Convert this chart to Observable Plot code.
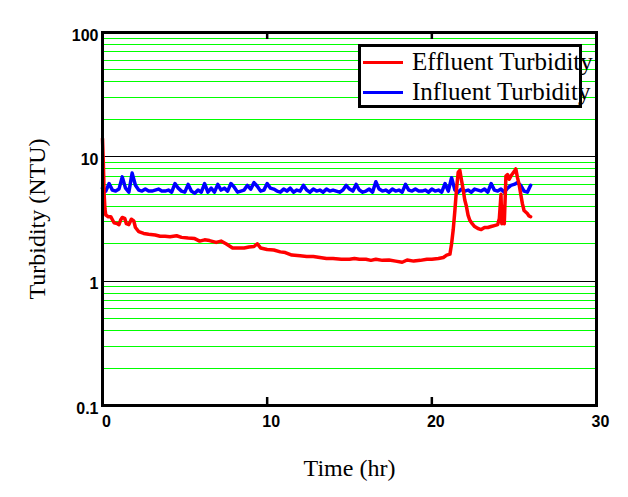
<!DOCTYPE html>
<html>
<head>
<meta charset="utf-8">
<script src="https://cdn.jsdelivr.net/npm/d3@7"></script>
<script src="https://cdn.jsdelivr.net/npm/@observablehq/plot@0.6"></script>
<style>
  body { margin: 0; background: #fff; }
  #wrap { position: relative; width: 628px; height: 497px; }
  #legend {
    position: absolute; left: 358px; top: 44px; width: 218px; height: 58px;
    border: 3px solid #000; background: #fff;
    font-family: "Liberation Serif", serif; font-size: 25px; white-space: nowrap;
  }
  #legend .row { position: absolute; left: 2px; height: 30px; line-height: 30px; }
  #legend .sw { display: inline-block; width: 40px; height: 3px; vertical-align: middle; margin-right: 9px; position: relative; top: -2px; }
</style>
</head>
<body>
<div id="wrap">
  <div id="chart"></div>
  <div id="legend"></div>
</div>
<script>
// effluent turbidity (red), irregular sample times
const effluentTime = [0, 0.05, 0.1, 0.15, 0.2, 0.35, 0.5, 0.7, 0.9, 1.0, 1.1, 1.2, 1.35, 1.45, 1.6, 1.75, 1.9, 2.0,
  2.2, 2.5, 2.8, 3.2, 3.5, 3.8, 4.1, 4.5, 4.8, 5.2, 5.6, 5.9, 6.2, 6.5, 6.9, 7.2, 7.5, 7.9, 8.3, 8.6, 8.9, 9.2, 9.4, 9.6,
  10.0, 10.4, 10.8, 11.1, 11.5, 12.0, 12.4, 12.8, 13.2, 13.6, 14.0, 14.5, 15.0, 15.3, 15.6, 16.0, 16.3, 16.6, 17.0,
  17.4, 17.8, 18.2, 18.5, 18.9, 19.3, 19.7, 20.0, 20.4, 20.7, 20.9, 21.1, 21.2, 21.3, 21.4, 21.5, 21.6, 21.7, 21.8,
  21.9, 22.0, 22.1, 22.2, 22.3, 22.45, 22.6, 22.8, 23.0, 23.2, 23.4, 23.6, 23.8, 24.0, 24.1, 24.2, 24.25, 24.3, 24.4,
  24.5, 24.6, 24.7, 24.8, 24.9, 25.0, 25.1, 25.2, 25.3, 25.4, 25.5, 25.6, 25.7, 25.8, 25.9, 26.0];
const effluentNTU = [14, 9, 5, 3.8, 3.4, 3.3, 3.3, 2.95, 2.9, 2.85, 3.1, 3.25, 3.2, 2.9, 2.85, 3.15, 3.05, 2.7,
  2.5, 2.42, 2.38, 2.35, 2.3, 2.3, 2.28, 2.32, 2.25, 2.22, 2.2, 2.1, 2.15, 2.12, 2.05, 2.1, 2.0, 1.85, 1.85, 1.85, 1.88, 1.9, 2.0, 1.85,
  1.8, 1.78, 1.72, 1.7, 1.62, 1.6, 1.58, 1.58, 1.55, 1.52, 1.52, 1.5, 1.5, 1.52, 1.5, 1.5, 1.47, 1.5, 1.47,
  1.48, 1.45, 1.42, 1.48, 1.45, 1.47, 1.5, 1.5, 1.52, 1.55, 1.62, 1.65, 2.0, 2.6, 3.7, 5.5, 7.5, 7.8, 6.5,
  5.5, 4.5, 4.0, 3.4, 3.1, 2.9, 2.75, 2.65, 2.6, 2.7, 2.7, 2.75, 2.8, 2.85, 3.2, 5.0, 2.9, 4.0, 2.9,
  7.0, 7.2, 6.6, 7.0, 7.3, 7.6, 8.0, 6.8, 6.0, 5.0, 4.2, 3.7, 3.6, 3.5, 3.35, 3.3];

// influent turbidity (blue), every 0.2 hr from 0 to 26
const influentNTU = [5.6, 5.3, 6.1, 5.4, 5.3, 5.5, 6.9, 5.6, 5.2, 7.4,
  5.9, 5.4, 5.3, 5.5, 5.3, 5.3, 5.4, 5.5, 5.3, 5.3,
  5.4, 5.2, 6.1, 5.6, 5.3, 5.2, 6.0, 5.3, 5.1, 5.4,
  5.2, 6.1, 5.2, 5.6, 5.2, 6.0, 5.4, 5.6, 5.3, 6.1,
  5.7, 5.2, 5.3, 5.4, 5.9, 5.5, 6.2, 5.8, 5.3, 5.4,
  6.1, 5.6, 5.5, 5.3, 5.2, 5.5, 5.3, 5.6, 5.2, 5.4,
  5.3, 5.9, 5.4, 5.2, 5.5, 5.3, 5.4, 5.2, 5.5, 5.3,
  5.4, 5.3, 5.2, 5.4, 5.9, 5.5, 5.3, 6.0, 5.4, 5.2,
  5.3, 5.5, 5.2, 6.3, 5.5, 5.3, 5.4, 5.2, 5.5, 5.3,
  5.4, 5.2, 6.0, 5.4, 5.3, 5.5, 5.3, 5.3, 5.4, 5.2,
  5.5, 5.3, 5.4, 5.2, 6.1, 5.3, 6.8, 5.4, 5.2, 5.5,
  5.3, 5.4, 5.2, 5.5, 5.4, 5.3, 5.5, 5.2, 6.1, 5.4,
  5.3, 5.5, 5.2, 5.6, 5.9, 6.0, 6.2, 5.9, 5.3, 5.2,
  5.9];
const influentStep = 0.2;

const yTicks = [0.1, 1, 10, 100];
const xTicks = [0, 10, 20, 30];
const minorGrid = [0.2, 0.3, 0.4, 0.5, 0.6, 0.7, 0.8, 0.9, 2, 3, 4, 5, 6, 7, 8, 9, 20, 30, 40, 50, 60, 70, 80, 90];
const majorGrid = [1, 10];

const series = [
  { name: "Effluent Turbidity", color: "#ff0000" },
  { name: "Influent Turbidity", color: "#0000ff" }
];

const effluent = effluentTime.map((t, i) => ({ t, v: effluentNTU[i] }));
const influent = influentNTU.map((v, i) => ({ t: +(i * influentStep).toFixed(2), v }));

const frameH = 497 - 32 - 92;

const chart = Plot.plot({
  width: 628,
  height: 497,
  marginLeft: 102,
  marginRight: 32,
  marginTop: 32,
  marginBottom: 92,
  style: { background: "#fff" },
  x: { domain: [0, 30] },
  y: { type: "log", domain: [0.1, 100] },
  marks: [
    Plot.ruleY(minorGrid, { stroke: "#00ff00", strokeWidth: 1, shapeRendering: "crispEdges" }),
    Plot.ruleY(majorGrid, { stroke: "#000", strokeWidth: 1, shapeRendering: "crispEdges" }),
    Plot.line(influent, { x: "t", y: "v", stroke: series[1].color, strokeWidth: 3.5 }),
    Plot.line(effluent, { x: "t", y: "v", stroke: series[0].color, strokeWidth: 3.5 }),
    Plot.tickX([10, 20], { stroke: "#000", strokeWidth: 2.5, insetTop: frameH - 8 }),
    Plot.tickX([10, 20], { stroke: "#000", strokeWidth: 2.5, insetBottom: frameH - 7 }),
    Plot.frame({ stroke: "#000", strokeWidth: 3 }),
    Plot.axisX({
      ticks: xTicks, tickSize: 0, tickPadding: 10, dx: 4, label: null,
      tickFormat: d => String(d),
      fontSize: 16, fontWeight: "bold", fontFamily: "Liberation Sans, sans-serif"
    }),
    Plot.axisY({
      ticks: yTicks, tickSize: 0, tickPadding: 4, dy: 3, label: null,
      tickFormat: d => String(d),
      fontSize: 16, fontWeight: "bold", fontFamily: "Liberation Sans, sans-serif"
    }),
    Plot.text(["Time (hr)"], {
      frameAnchor: "bottom", dy: 63, lineAnchor: "middle", textAnchor: "middle",
      fontSize: 24, fontFamily: "Liberation Serif, serif", fill: "#000"
    }),
    Plot.text(["Turbidity (NTU)"], {
      frameAnchor: "left", dx: -65, rotate: -90, lineAnchor: "middle", textAnchor: "middle",
      fontSize: 24, fontFamily: "Liberation Serif, serif", fill: "#000"
    })
  ]
});
document.getElementById("chart").appendChild(chart);

const legend = document.getElementById("legend");
series.forEach((s, i) => {
  const row = document.createElement("div");
  row.className = "row";
  row.style.top = (i * 30) + "px";
  const sw = document.createElement("span");
  sw.className = "sw";
  sw.style.background = s.color;
  row.appendChild(sw);
  row.appendChild(document.createTextNode(s.name));
  legend.appendChild(row);
});
</script>
</body>
</html>
